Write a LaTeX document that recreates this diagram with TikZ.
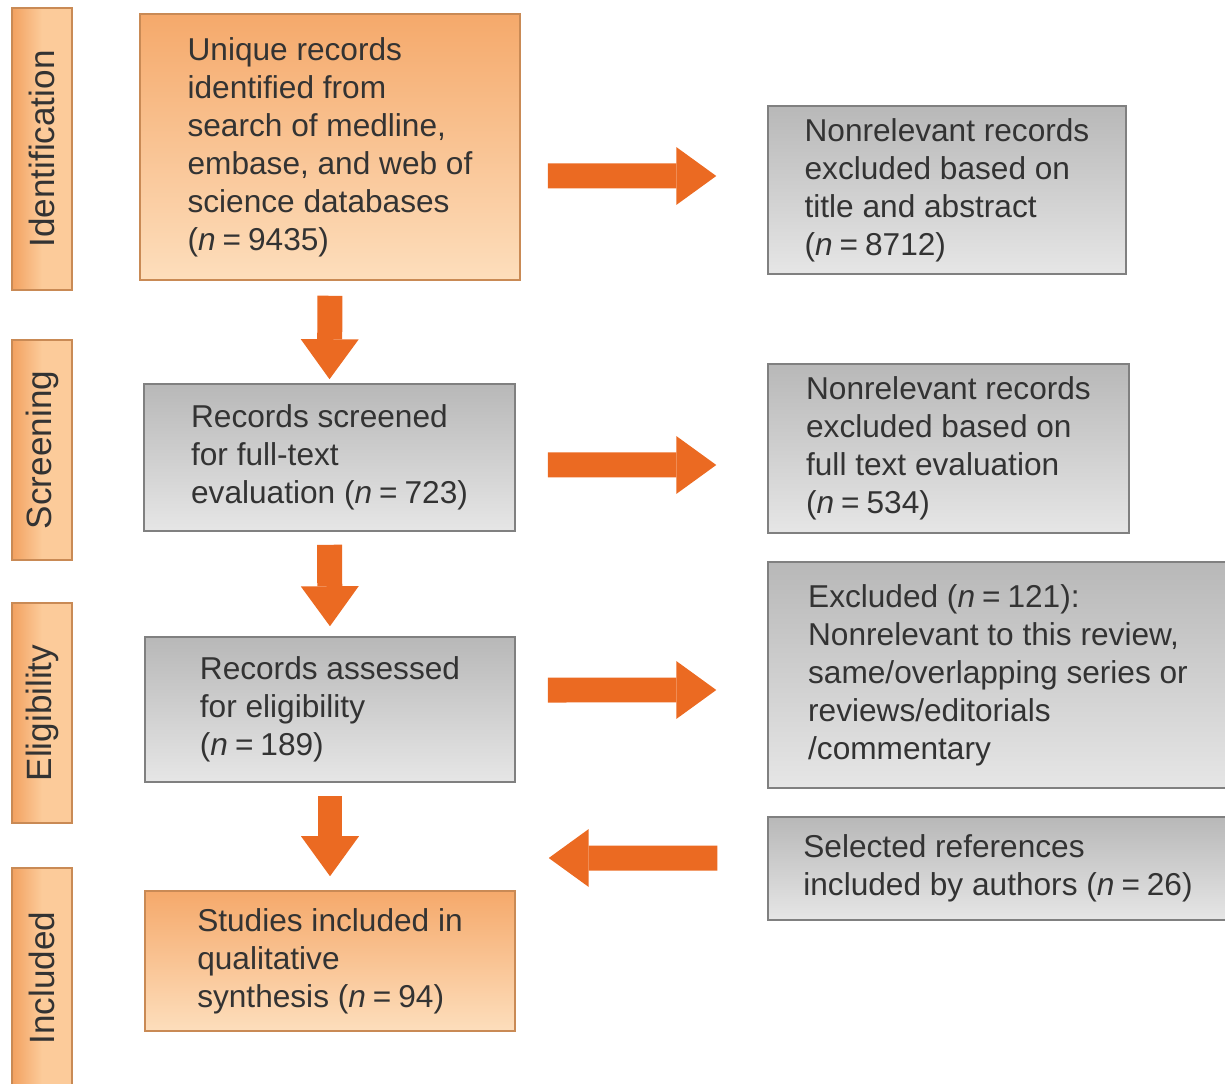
\documentclass[tikz,border=0pt]{standalone}
\usepackage{fontspec}
\setsansfont{Liberation Sans}
\usepackage{xcolor}
\usepackage{tikz}
\usetikzlibrary{arrows.meta, positioning, calc}

\definecolor{flowor}{HTML}{EB6A22}
\definecolor{ortop}{HTML}{F5A96B}
\definecolor{orbot}{HTML}{FDDEBC}
\definecolor{orline}{HTML}{C98A55}
\definecolor{grtop}{HTML}{B8B8B8}
\definecolor{grbot}{HTML}{E6E6E6}
\definecolor{grline}{HTML}{808080}
\definecolor{labdark}{HTML}{F2A160}
\definecolor{lablight}{HTML}{FCCB9A}
\definecolor{inktext}{HTML}{333333}

\newcommand{\eqn}[1]{(\textit{n}\hspace{0.22em}=\hspace{0.22em}#1)}

\tikzset{
  orangebox/.style={
    draw=orline, line width=0.9pt, top color=ortop, bottom color=orbot,
    align=left, text=inktext, font=\sffamily\fontsize{18}{21.6}\selectfont
  },
  greybox/.style={
    draw=grline, line width=0.9pt, top color=grtop, bottom color=grbot,
    align=left, text=inktext, font=\sffamily\fontsize{18}{21.6}\selectfont
  },
  phaselabel/.style={
    draw=orline, line width=0.9pt,
    left color=labdark, right color=lablight, middle color=lablight,
    minimum width=1.2cm, text=inktext,
    font=\sffamily\fontsize{20}{24}\selectfont
  },
  flowarrow/.style={
    draw=flowor, line width=0.5cm,
    -{Triangle[width=1.16cm, length=0.8cm, line width=0pt]}
  },
}

\begin{document}
\begin{tikzpicture}[x=0.02cm, y=-0.02cm]
  \useasboundingbox (0,0) rectangle (1225,1084);

  % Phase labels on the left
  \node[phaselabel, minimum height=5.64cm] (ident) at (42,149) {\rotatebox{90}{Identification}};
  \node[phaselabel, minimum height=4.4cm] (screen) at (42,450) {\rotatebox{90}{Screening}};
  \node[phaselabel, minimum height=4.4cm] (elig) at (42,713) {\rotatebox{90}{Eligibility}};
  \node[phaselabel, minimum height=4.4cm] (incl) at (42,978) {\rotatebox{90}{Included}};

  % Main flow
  \node[orangebox, minimum width=7.6cm, minimum height=5.32cm] (search) at (330,147)
    {Unique records\\identified from\\search of medline,\\embase, and web of\\science databases\\\eqn{9435}};
  \node[greybox, minimum width=7.42cm, minimum height=2.94cm] (screened) at (329.5,457.5)
    {Records screened\\for full-text\\evaluation \eqn{723}};
  \node[greybox, minimum width=7.4cm, minimum height=2.9cm] (assessed) at (330,709.5)
    {Records assessed\\for eligibility\\\eqn{189}};
  \node[orangebox, minimum width=7.4cm, minimum height=2.8cm] (studies) at (330,961)
    {Studies included in\\qualitative\\synthesis \eqn{94}};

  % Side boxes
  \node[greybox, minimum width=7.16cm, minimum height=3.36cm] (titleex) at (947,190)
    {Nonrelevant records\\excluded based on\\title and abstract\\\eqn{8712}};
  \node[greybox, minimum width=7.22cm, minimum height=3.38cm] (fullex) at (948.5,448.5)
    {Nonrelevant records\\excluded based on\\full text evaluation\\\eqn{534}};
  \node[greybox, minimum width=9.2cm, minimum height=4.52cm] (eligex) at (998,675)
    {Excluded \eqn{121}:\\Nonrelevant to this review,\\same/overlapping series or\\reviews/editorials\\/commentary};
  \node[greybox, minimum width=9.2cm, minimum height=2.06cm] (selref) at (998,868.5)
    {Selected references\\included by authors \eqn{26}};

  % Arrows: down the flow
  \draw[flowarrow, shorten <=0.3cm, shorten >=0.08cm] (search.south) -- (screened.north);
  \draw[flowarrow, shorten <=0.26cm, shorten >=0.2cm] (screened.south) -- (assessed.north);
  \draw[flowarrow, shorten <=0.26cm, shorten >=0.28cm] (assessed.south) -- (studies.north);

  % Arrows: exclusions and additions
  \draw[flowarrow, shorten <=0.54cm, shorten >=1.02cm]
    ([yshift=-0.58cm]search.east) -- ([yshift=0.28cm]titleex.west);
  \draw[flowarrow, shorten <=0.64cm, shorten >=1.02cm]
    ([yshift=-0.15cm]screened.east) -- ([yshift=-0.33cm]fullex.west);
  \draw[flowarrow, shorten <=0.64cm, shorten >=1.02cm]
    ([yshift=0.39cm]assessed.east) -- ([yshift=-0.3cm]eligex.west);
  \draw[flowarrow, shorten <=1.0cm, shorten >=0.66cm]
    ([yshift=0.21cm]selref.west) -- ([yshift=2.06cm]studies.east);
\end{tikzpicture}
\end{document}
